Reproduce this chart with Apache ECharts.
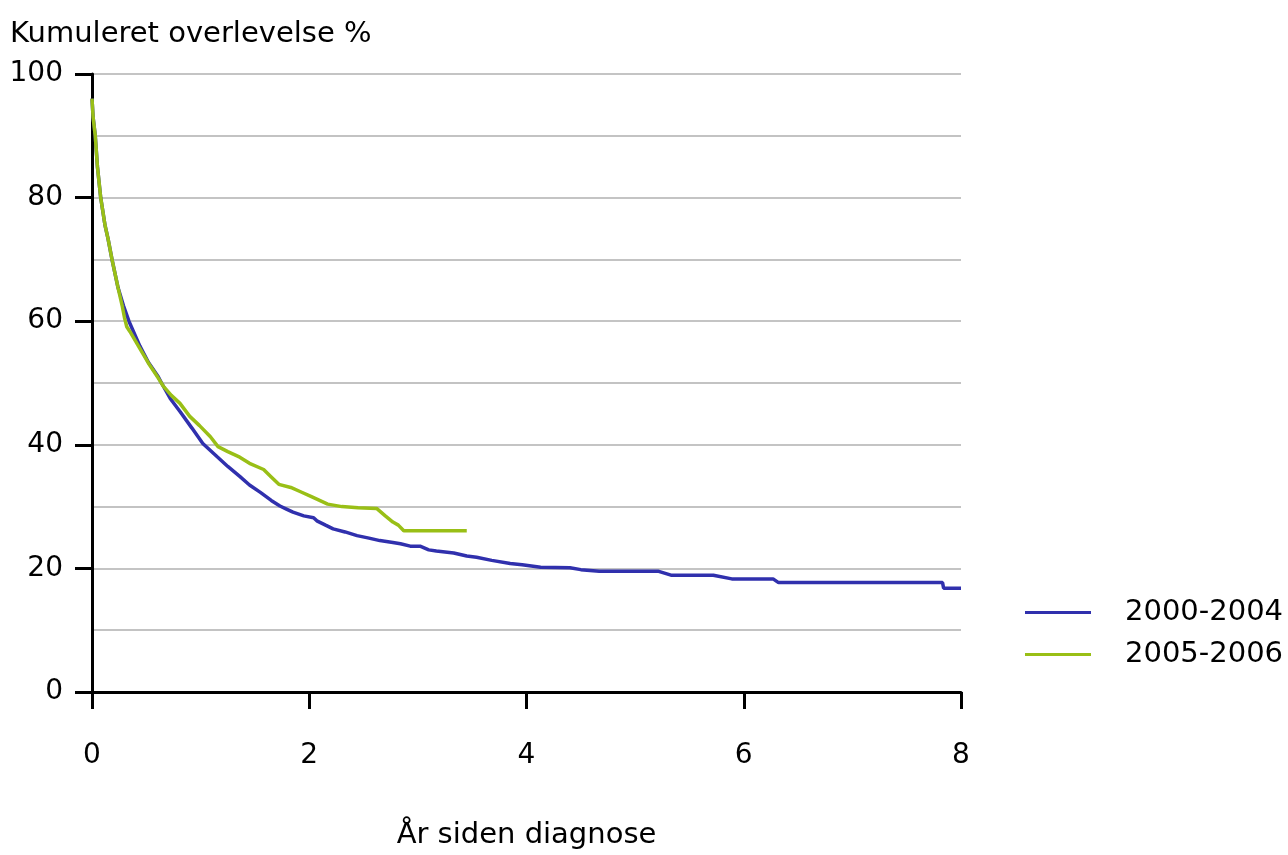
<!DOCTYPE html>
<html>
<head>
<meta charset="utf-8">
<script src="https://cdn.jsdelivr.net/npm/echarts@6/dist/echarts.min.js"></script>
<style>
html,body{margin:0;padding:0;background:#fff;}
#chart{width:1288px;height:855px;}
</style>
</head>
<body>
<div id="chart"></div>
<script>
// Series names
const seriesNames = ['2000-2004', '2005-2006'];

// 2000-2004: years since diagnosis and cumulative survival %
const yearsA = [0,0.01,0.03,0.05,0.08,0.12,0.147,0.184,0.24,0.29,0.34,0.44,0.52,0.61,0.64,0.72,0.81,0.92,1.02,1.15,1.25,1.36,1.45,1.55,1.65,1.73,1.79,1.85,1.95,2.04,2.07,2.15,2.22,2.33,2.44,2.55,2.65,2.77,2.84,2.93,3.02,3.1,3.17,3.33,3.45,3.54,3.68,3.85,3.96,4.13,4.4,4.5,4.67,5.21,5.33,5.72,5.89,6.27,6.32,7.83,7.84,8];
const survA  = [96,93,90,85,80,75.5,73.4,70,65.4,62.5,60,56,53.3,51,50,47.5,45.4,42.7,40.2,38.1,36.5,34.9,33.5,32.3,31,30.1,29.6,29.1,28.5,28.2,27.7,27,26.4,25.9,25.3,24.9,24.5,24.2,24,23.6,23.6,23.0,22.8,22.5,22.0,21.8,21.3,20.8,20.6,20.2,20.1,19.8,19.55,19.55,18.9,18.9,18.3,18.3,17.7,17.7,16.8,16.8];

// 2005-2006
const yearsB = [0,0.01,0.03,0.05,0.08,0.12,0.147,0.184,0.24,0.28,0.30,0.32,0.35,0.44,0.52,0.61,0.66,0.73,0.81,0.9,0.99,1.09,1.16,1.25,1.36,1.45,1.58,1.65,1.72,1.83,1.92,2.02,2.17,2.3,2.45,2.62,2.7,2.77,2.82,2.87,3.45];
const survB  = [96,93,90,85,80,75.5,73.4,70,65.4,62.3,60.5,59.1,58.3,55.6,53.2,50.8,49.4,48,46.7,44.6,43.1,41.3,39.7,38.9,38.0,37.0,36.0,34.8,33.6,33.1,32.4,31.6,30.4,30.0,29.8,29.7,28.5,27.5,27,26.1,26.1];

// Axis ticks
const xTicks = [0, 2, 4, 6, 8];
const yTicks = [0, 20, 40, 60, 80, 100];

const zip = (xs, ys) => xs.map((x, i) => [x, ys[i]]);
const FONT = 'DejaVu Sans';

const chart = echarts.init(document.getElementById('chart'), null, {renderer: 'canvas'});
chart.setOption({
  backgroundColor: '#ffffff',
  animation: false,
  title: {
    text: 'Kumuleret overlevelse %',
    left: 5,
    top: 15,
    textStyle: {fontFamily: FONT, fontSize: 29, fontWeight: 'normal', color: '#000'}
  },
  legend: {
    orient: 'vertical',
    left: 1020,
    top: 593,
    icon: 'rect',
    itemWidth: 66,
    itemHeight: 3,
    itemGap: 13,
    data: seriesNames,
    textStyle: {fontFamily: FONT, fontSize: 29, color: '#000', padding: [0, 0, 0, 29]}
  },
  grid: {left: 92, right: 327, top: 74, bottom: 157},
  xAxis: {
    type: 'value',
    min: xTicks[0],
    max: xTicks[xTicks.length - 1],
    interval: xTicks[1] - xTicks[0],
    name: 'År siden diagnose',
    nameLocation: 'middle',
    nameGap: 129,
    nameTextStyle: {fontFamily: FONT, fontSize: 29, color: '#000'},
    axisLine: {show: true, lineStyle: {color: '#000', width: 3}},
    axisTick: {show: true, length: 17, lineStyle: {color: '#000', width: 3}},
    axisLabel: {fontFamily: FONT, fontSize: 28, color: '#000', margin: 50},
    splitLine: {show: false}
  },
  yAxis: {
    type: 'value',
    min: yTicks[0],
    max: yTicks[yTicks.length - 1],
    interval: yTicks[1] - yTicks[0],
    axisLine: {show: true, lineStyle: {color: '#000', width: 3}},
    axisTick: {show: true, length: 17, lineStyle: {color: '#000', width: 3}},
    axisLabel: {fontFamily: FONT, fontSize: 28, color: '#000', margin: 29},
    splitLine: {show: true, lineStyle: {color: '#b0b0b0', width: 1.5}},
    minorTick: {show: false, splitNumber: 2},
    minorSplitLine: {show: true, lineStyle: {color: '#b0b0b0', width: 1.5}}
  },
  series: [
    {
      name: seriesNames[0],
      type: 'line',
      data: zip(yearsA, survA),
      showSymbol: false,
      symbol: 'none',
      lineStyle: {color: '#3030ad', width: 3.5},
      itemStyle: {color: '#3030ad'},
      z: 3
    },
    {
      name: seriesNames[1],
      type: 'line',
      data: zip(yearsB, survB),
      showSymbol: false,
      symbol: 'none',
      lineStyle: {color: '#99bf16', width: 3.5},
      itemStyle: {color: '#99bf16'},
      z: 4
    }
  ]
});
</script>
</body>
</html>
